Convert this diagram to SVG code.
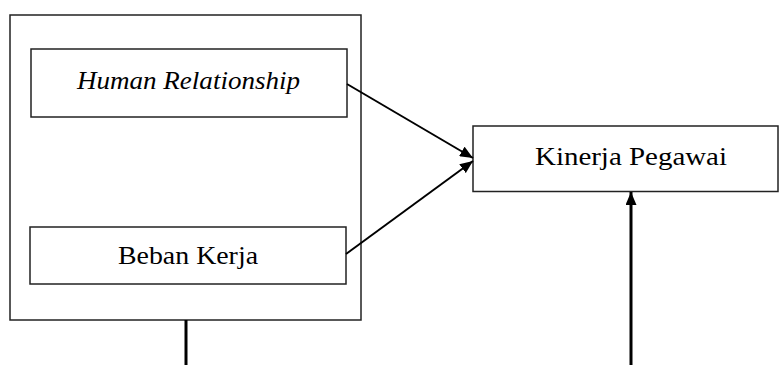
<svg xmlns="http://www.w3.org/2000/svg" width="779" height="365" viewBox="0 0 779 365">
<style>
.box{fill:#fff;stroke:#222;stroke-width:1.5}
.con{stroke:#000;fill:none}
</style>
<defs>
<marker id="ah" viewBox="0 0 13 11" refX="13" refY="5.5" markerWidth="13" markerHeight="11" markerUnits="userSpaceOnUse" orient="auto">
<path d="M0,0 L13,5.5 L0,11 Z" fill="#000"/>
</marker>
</defs>
<g id="outer"><rect class="box" x="10" y="15" width="351" height="305"/></g>
<g id="human-relationship"><rect class="box" x="31" y="49" width="316" height="68"/><text x="188.5" y="89" font-family="Liberation Serif, DejaVu Serif, serif" font-size="25" font-style="italic" text-anchor="middle" textLength="223" lengthAdjust="spacingAndGlyphs">Human Relationship</text></g>
<g id="beban-kerja"><rect class="box" x="30" y="227" width="316" height="57"/><text x="188" y="264" font-family="Liberation Serif, DejaVu Serif, serif" font-size="25" text-anchor="middle" textLength="140" lengthAdjust="spacingAndGlyphs">Beban Kerja</text></g>
<g id="kinerja-pegawai"><rect class="box" x="473" y="126" width="305" height="65.5"/><text x="631" y="165" font-family="Liberation Serif, DejaVu Serif, serif" font-size="25" text-anchor="middle" textLength="192" lengthAdjust="spacingAndGlyphs">Kinerja Pegawai</text></g>
<g id="connectors">
<line class="con" stroke-width="2" x1="347" y1="84" x2="473" y2="158" marker-end="url(#ah)"/>
<line class="con" stroke-width="2" x1="346" y1="254" x2="473" y2="161" marker-end="url(#ah)"/>
<line class="con" stroke-width="3" x1="186" y1="320" x2="186" y2="365"/>
<line class="con" stroke-width="3" x1="631" y1="365" x2="631" y2="192" marker-end="url(#ah)"/>
</g>
</svg>
